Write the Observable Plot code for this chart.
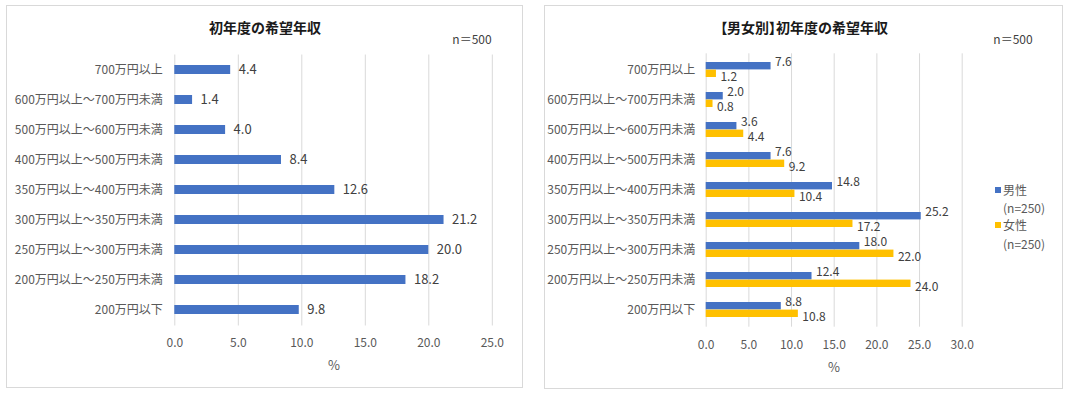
<!DOCTYPE html>
<html>
<head>
<meta charset="utf-8">
<script src="https://cdn.jsdelivr.net/npm/d3@7"></script>
<script src="https://cdn.jsdelivr.net/npm/@observablehq/plot@0.6"></script>
<style>
  html, body { margin: 0; padding: 0; background: #fff; }
  body { font-family: "Noto Sans CJK JP", "Noto Sans", sans-serif; }
  #root { position: relative; width: 1068px; height: 396px; overflow: hidden; }
  .panel { position: absolute; border: 1px solid #d9d9d9; box-sizing: border-box; }
  .abs { position: absolute; white-space: nowrap; line-height: 1; }
  .title { font-size: 14px; font-weight: bold; color: #1a1a1a; transform: translate(-50%, -50%); }
  .palt { font-feature-settings: "palt"; }
  .note { font-size: 12px; color: #404040; transform: translate(-50%, -50%); }
  .unit { font-size: 13px; color: #595959; transform: translate(-50%, -50%); }
  .leg { font-size: 12px; color: #595959; transform: translateY(-50%); }
  .sw { position: absolute; width: 6px; height: 6px; transform: translateY(-50%); }
</style>
</head>
<body>
<div id="root">
  <div class="panel" style="left:6px;top:5px;width:517px;height:383px;"></div>
  <div class="panel" style="left:544px;top:5px;width:519px;height:384px;"></div>
  <div class="abs title" style="left:265px;top:27px;">初年度の希望年収</div>
  <div class="abs note" style="left:472px;top:39px;">n＝500</div>
  <div class="abs title palt" style="left:804px;top:27px;">【男女別】初年度の希望年収</div>
  <div class="abs note" style="left:1013px;top:39px;">n＝500</div>
  <div id="left" class="abs" style="left:6px;top:45px;"></div>
  <div id="right" class="abs" style="left:544px;top:45px;"></div>
  <div class="abs unit" style="left:334px;top:364px;">%</div>
  <div class="abs unit" style="left:834px;top:366px;">%</div>
  <div class="sw" style="left:995px;top:190px;background:#4472C4;"></div>
  <div class="abs leg" style="left:1003px;top:190px;">男性</div>
  <div class="abs leg" style="left:1003px;top:208px;">(n=250)</div>
  <div class="sw" style="left:995px;top:225px;background:#FFC000;"></div>
  <div class="abs leg" style="left:1003px;top:225px;">女性</div>
  <div class="abs leg" style="left:1003px;top:244px;">(n=250)</div>
</div>
<script>
const categories = [
  "700万円以上",
  "600万円以上～700万円未満",
  "500万円以上～600万円未満",
  "400万円以上～500万円未満",
  "350万円以上～400万円未満",
  "300万円以上～350万円未満",
  "250万円以上～300万円未満",
  "200万円以上～250万円未満",
  "200万円以下"
];
const totalValues  = [4.4, 1.4, 4.0, 8.4, 12.6, 21.2, 20.0, 18.2, 9.8];
const maleValues   = [7.6, 2.0, 3.6, 7.6, 14.8, 25.2, 18.0, 12.4, 8.8];
const femaleValues = [1.2, 0.8, 4.4, 9.2, 10.4, 17.2, 22.0, 24.0, 10.8];
const leftTicks  = [0, 5, 10, 15, 20, 25];
const rightTicks = [0, 5, 10, 15, 20, 25, 30];

const BLUE = "#4472C4", YELLOW = "#FFC000";
const fmt = d => d.toFixed(1);
const baseStyle = {fontFamily: "'Noto Sans CJK JP', 'Noto Sans', sans-serif", fontSize: "12px", color: "#595959", background: "transparent", overflow: "visible"};

const totalRows = categories.map((c, i) => ({c, v: totalValues[i]}));
const maleRows = categories.map((c, i) => ({c, v: maleValues[i]}));
const femaleRows = categories.map((c, i) => ({c, v: femaleValues[i]}));

const left = Plot.plot({
  width: 516, height: 330,
  marginLeft: 168.3, marginRight: 30.2, marginTop: 9.5, marginBottom: 49.5,
  style: baseStyle,
  x: {domain: [0, 25], ticks: leftTicks, tickFormat: fmt, tickSize: 0, tickPadding: 12, label: null},
  y: {domain: categories, paddingInner: 0.7, paddingOuter: 0.35, tickSize: 0, tickPadding: 12, label: null},
  marks: [
    Plot.ruleX(leftTicks, {stroke: "#d9d9d9", strokeWidth: 1}),
    Plot.barX(totalRows, {x: "v", y: "c", fill: BLUE}),
    Plot.text(totalRows, {x: "v", y: "c", text: d => fmt(d.v), textAnchor: "start", dx: 8, fill: "#404040", fontSize: 13})
  ]
});
document.getElementById("left").appendChild(left);

const right = Plot.plot({
  width: 518, height: 330,
  marginLeft: 161.7, marginRight: 100.3, marginTop: 8.3, marginBottom: 48.3,
  style: baseStyle,
  x: {domain: [0, 30], ticks: rightTicks, tickFormat: fmt, tickSize: 0, tickPadding: 13, label: null},
  y: {domain: categories, paddingInner: 0.5, paddingOuter: 0.25, tickSize: 0, tickPadding: 11, label: null},
  marks: [
    Plot.ruleX(rightTicks, {stroke: "#d9d9d9", strokeWidth: 1}),
    Plot.barX(maleRows, {x: "v", y: "c", fill: BLUE, insetBottom: 7.6}),
    Plot.barX(femaleRows, {x: "v", y: "c", fill: YELLOW, insetTop: 7.6}),
    Plot.text(maleRows, {x: "v", y: "c", text: d => fmt(d.v), textAnchor: "start", dx: 4, dy: -7.5, fill: "#404040", fontSize: 12}),
    Plot.text(femaleRows, {x: "v", y: "c", text: d => fmt(d.v), textAnchor: "start", dx: 4, dy: 7.5, fill: "#404040", fontSize: 12})
  ]
});
document.getElementById("right").appendChild(right);
</script>
</body>
</html>
